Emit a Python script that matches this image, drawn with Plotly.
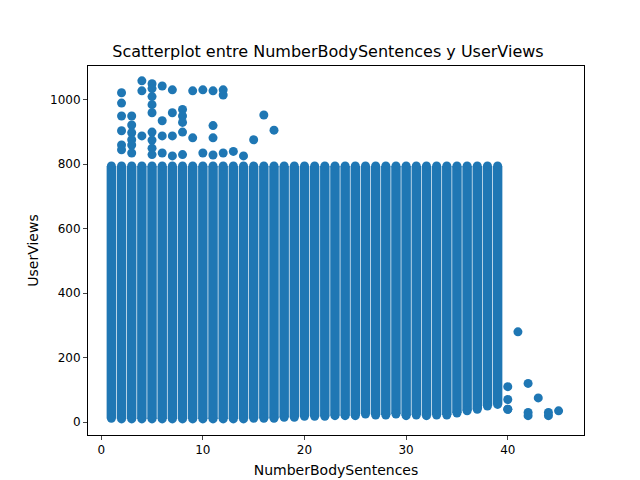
import plotly.graph_objects as go

# dense columns: sentence count, min and max views seen in each column
col_x = list(range(1, 40))
col_min = [12, 10, 10, 10, 10, 10, 10, 10, 10, 10, 10, 10, 10, 10, 12, 12, 12, 15, 15, 18,
           18, 18, 20, 20, 20, 25, 22, 22, 25, 20, 22, 20, 22, 22, 28, 35, 40, 50, 55]
col_max = [795] * 39

# points outside the dense block
out_x = [2, 2, 2, 2, 2, 2, 3, 3, 3, 3, 3, 3, 4, 4, 4,
         5, 5, 5, 5, 5, 5, 5, 5, 5, 6, 6, 6, 6, 7, 7, 7, 7, 8, 8, 8, 8, 8,
         9, 9, 10, 10, 11, 11, 11, 11, 12, 12, 12, 13, 14, 15, 16, 17,
         40, 40, 40, 40, 41, 42, 42, 42, 43, 44, 44, 45]
out_y = [1022, 990, 950, 904, 860, 845, 950, 922, 898, 876, 860, 835, 1059, 1028, 888,
         1050, 1035, 1010, 985, 960, 900, 875, 850, 830, 1043, 935, 888, 835, 1031, 960, 888, 826,
         970, 950, 930, 900, 830,
         1028, 882, 1031, 835, 1028, 920, 882, 829, 1031, 1015, 835, 840, 826, 876, 953, 906,
         110, 70, 40, 40, 280, 120, 30, 20, 75, 20, 30, 35]

seg_x, seg_y = [], []
for x, lo, hi in zip(col_x, col_min, col_max):
    seg_x += [x, x, None]
    seg_y += [lo, hi, None]

blue = "#1f77b4"
fig = go.Figure()
fig.add_trace(go.Scatter(x=seg_x, y=seg_y, mode="lines+markers",
                         line=dict(color=blue, width=9.5), marker=dict(color=blue, size=9),
                         hoverinfo="skip"))
fig.add_trace(go.Scatter(x=out_x, y=out_y, mode="markers",
                         marker=dict(color=blue, size=9)))

fig.update_layout(
    width=640, height=480,
    title=dict(text="Scatterplot entre NumberBodySentences y UserViews", x=0.5, y=0.91,
               xanchor="center", yanchor="middle", font=dict(size=16, color="black")),
    font=dict(family="DejaVu Sans", size=12, color="black"),
    showlegend=False,
    plot_bgcolor="white", paper_bgcolor="white",
    margin=dict(l=80, r=64, t=58, b=53),
)
fig.update_xaxes(title_text="NumberBodySentences", range=[-1.3, 47.5], tickvals=[0, 10, 20, 30, 40],
                 showgrid=False, zeroline=False, showline=True, linecolor="black", mirror=True,
                 ticks="outside", ticklen=4, automargin=False, title_standoff=8)
fig.update_yaxes(title_text="UserViews", range=[-40, 1105], tickvals=[0, 200, 400, 600, 800, 1000],
                 showgrid=False, zeroline=False, showline=True, linecolor="black", mirror=True,
                 ticks="outside", ticklen=4, automargin=False, title_standoff=8)
fig.write_html("out.html")
